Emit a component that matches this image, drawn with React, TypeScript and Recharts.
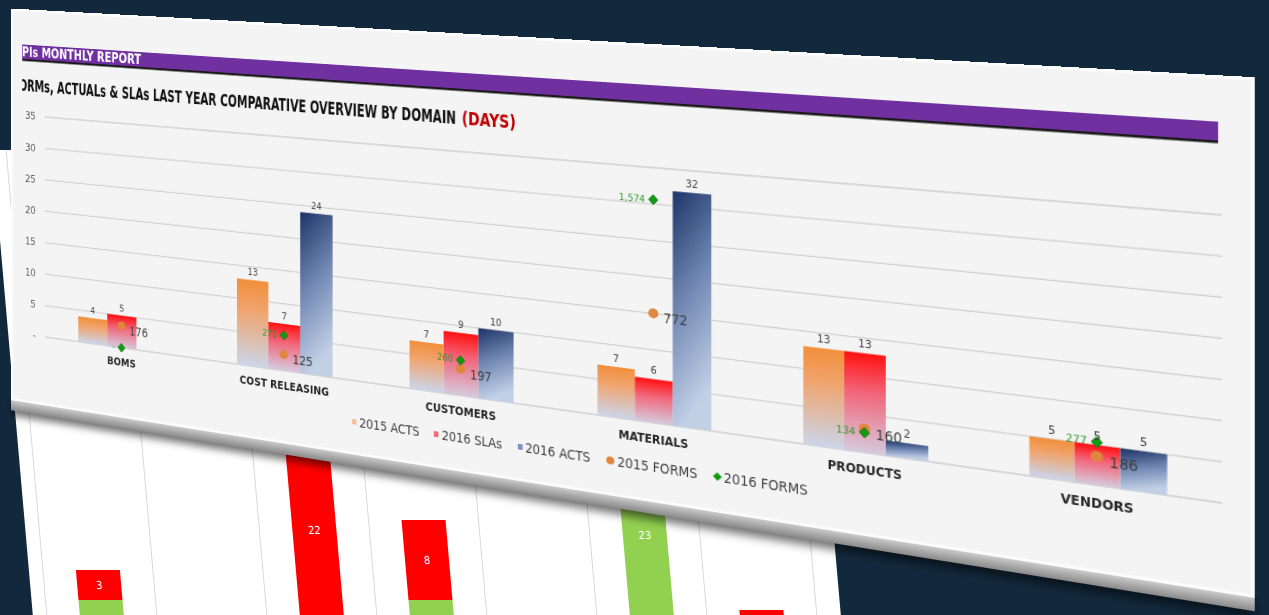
import React from 'react';
import { ComposedChart, BarChart, Bar, Line, XAxis, YAxis, CartesianGrid, LabelList } from 'recharts';

// ---------- data (main chart) ----------
const categories = ['BOMS', 'COST RELEASING', 'CUSTOMERS', 'MATERIALS', 'PRODUCTS', 'VENDORS'];
const acts2015 = [4, 13, 7, 7, 13, 5];
const slas2016 = [5, 7, 9, 6, 13, 5];
const acts2016 = [0, 24, 10, 32, 2, 5];
const forms2015 = [176, 125, 197, 772, 160, 186];
const forms2016 = [0, 271, 260, 1574, 134, 277];
const yTicks = [0, 5, 10, 15, 20, 25, 30, 35];
const seriesNames = ['2015 ACTS', '2016 SLAs', '2016 ACTS', '2015 FORMS', '2016 FORMS'];
const reportTitle = 'KPIs MONTHLY REPORT';
const chartTitle = 'FORMs, ACTUALs & SLAs LAST YEAR COMPARATIVE OVERVIEW BY DOMAIN';
const chartUnit = '(DAYS)';

// ---------- data (background chart, mostly hidden) ----------
const backCategories = ['1', '2', '3', '4', '5', '6', '7'];
const backGreen = [5, 0, 1, 5, 0, 23, 2];
const backRed = [3, 0, 22, 8, 0, 5, 2];

const FONT = '"Liberation Sans Narrow","DejaVu Sans Condensed","Roboto Condensed","Open Sans",Arial,sans-serif';

// ---------- projective transform helper ----------
type P = [number, number];
function adj(m: number[]) {
  return [
    m[4] * m[8] - m[5] * m[7], m[2] * m[7] - m[1] * m[8], m[1] * m[5] - m[2] * m[4],
    m[5] * m[6] - m[3] * m[8], m[0] * m[8] - m[2] * m[6], m[2] * m[3] - m[0] * m[5],
    m[3] * m[7] - m[4] * m[6], m[1] * m[6] - m[0] * m[7], m[0] * m[4] - m[1] * m[3],
  ];
}
function mulMM(a: number[], b: number[]) {
  const c: number[] = [];
  for (let i = 0; i < 3; i++)
    for (let j = 0; j < 3; j++) {
      let s = 0;
      for (let k = 0; k < 3; k++) s += a[3 * i + k] * b[3 * k + j];
      c[3 * i + j] = s;
    }
  return c;
}
function mulMV(m: number[], v: number[]) {
  return [
    m[0] * v[0] + m[1] * v[1] + m[2] * v[2],
    m[3] * v[0] + m[4] * v[1] + m[5] * v[2],
    m[6] * v[0] + m[7] * v[1] + m[8] * v[2],
  ];
}
function basis(p: P[]) {
  const m = [p[0][0], p[1][0], p[2][0], p[0][1], p[1][1], p[2][1], 1, 1, 1];
  const v = mulMV(adj(m), [p[3][0], p[3][1], 1]);
  return mulMM(m, [v[0], 0, 0, 0, v[1], 0, 0, 0, v[2]]);
}
function homography(src: P[], dst: P[]) {
  const t = mulMM(basis(dst), adj(basis(src)));
  const n = t.map((x) => x / t[8]);
  return `matrix3d(${n[0]},${n[3]},0,${n[6]},${n[1]},${n[4]},0,${n[7]},0,0,1,0,${n[2]},${n[5]},0,${n[8]})`;
}

// card flat geometry: plot rectangle -> where it appears in the photo
const CARD_W = 1250;
const CARD_H = 467;
const cardSrc: P[] = [[45, 126], [1225, 126], [1225, 386], [45, 386]];
const cardDst: P[] = [[45, 117], [1222, 215], [1222, 503], [45, 337]];

const vb = (p: any) => {
  const v = p.viewBox || {};
  return {
    x: p.x ?? v.x ?? 0,
    y: p.y ?? v.y ?? 0,
    width: p.width ?? v.width ?? 0,
    height: p.height ?? v.height ?? 0,
  };
};

const barLabel = (p: any) => {
  const { x, y, width } = vb(p);
  return (
    <text x={x + width / 2} y={y - 5} textAnchor="middle" fontSize={10.5} fill="#404040" fontFamily={FONT}>
      {p.value === 0 ? '-' : p.value}
    </text>
  );
};
const orangeLabel = (p: any) => {
  const { x, y } = vb(p);
  return (
    <text x={x + 10} y={y + 9} textAnchor="start" fontSize={13.5} fill="#404040" fontFamily={FONT}>
      {Number(p.value).toLocaleString('en-US')}
    </text>
  );
};
const greenLabel = (p: any) => {
  const { x, y } = vb(p);
  return (
    <text x={x - 8} y={y + 3} textAnchor="end" fontSize={10} fill="#2c9a2c" fontFamily={FONT}>
      {p.value === 0 ? '-' : Number(p.value).toLocaleString('en-US')}
    </text>
  );
};
// the background sheet is cut by the window: only segment labels inside the view are drawn
const backLabel = (p: any) => {
  const { x, y, width, height } = vb(p);
  const cy = y + height / 2;
  if (!p.value || cy > 435) return null;
  return (
    <text x={x + width / 2} y={cy + 4} textAnchor="middle" fontSize={11} fill="#ffffff" fontFamily={FONT}>
      {p.value}
    </text>
  );
};

const orangeDot = (p: any) => <circle key={`o${p.index}`} cx={p.cx} cy={p.cy} r={5} fill="#E0873D" />;
const greenDot = (p: any) => (
  <path
    key={`g${p.index}`}
    d={`M${p.cx},${p.cy - 5}L${p.cx + 4.5},${p.cy}L${p.cx},${p.cy + 5}L${p.cx - 4.5},${p.cy}Z`}
    fill="#129a12"
    stroke="#0b6e0b"
    strokeWidth={0.8}
  />
);

const legendMarkers = [
  { color: '#F3C2A2', shape: 'square' },
  { color: '#EE6B7B', shape: 'square' },
  { color: '#7F95BF', shape: 'square' },
  { color: '#E0873D', shape: 'circle' },
  { color: '#129a12', shape: 'diamond' },
];

export default function App() {
  const data = categories.map((name, i) => ({
    name,
    acts2015: acts2015[i],
    slas2016: slas2016[i],
    acts2016: acts2016[i],
    forms2015: forms2015[i],
    forms2016: forms2016[i],
  }));
  const backData = backCategories.map((name, i) => ({ name, green: backGreen[i], red: backRed[i] }));
  const cardTransform = homography(cardSrc, cardDst);

  return (
    <div
      style={{
        position: 'fixed', left: 0, top: 0, width: 1269, height: 615, overflow: 'hidden',
        background: '#12293d', fontFamily: FONT,
      }}
    >
      {/* background report sheet */}
      <div
        style={{
          position: 'absolute', left: 28, top: 150, width: 808, height: 520, background: '#ffffff',
          transform: 'skewX(5deg)', transformOrigin: '0px 410px',
        }}
      >
        <BarChart width={808} height={500} data={backData} margin={{ top: 0, right: 24, bottom: 0, left: 14 }} barCategoryGap="30%">
          <CartesianGrid
            horizontal={false}
            stroke="#d9d9d9"
            verticalCoordinatesGenerator={({ offset }: any) =>
              Array.from({ length: backCategories.length + 1 }, (_, i) => offset.left + (i * offset.width) / backCategories.length)
            }
          />
          <XAxis dataKey="name" hide />
          <YAxis hide domain={[0, 50]} />
          <Bar dataKey="green" stackId="a" fill="#92D050" isAnimationActive={false}>
            <LabelList dataKey="green" content={backLabel} />
          </Bar>
          <Bar dataKey="red" stackId="a" fill="#FF0000" isAnimationActive={false}>
            <LabelList dataKey="red" content={backLabel} />
          </Bar>
        </BarChart>
      </div>

      {/* main card, flat layout projected onto the photographed plane */}
      <div
        style={{
          position: 'absolute', left: 0, top: 0, width: CARD_W, height: CARD_H,
          transformOrigin: '0 0', transform: cardTransform,
        }}
      >
        <div
          style={{
            position: 'absolute', left: 0, top: CARD_H - 6, width: CARD_W, height: 18,
            background: 'linear-gradient(#eeeeee, #b5b5b5 55%, #8a8a8a)',
            boxShadow: '0 6px 10px rgba(0,0,0,0.55)',
          }}
        />
        <div
          style={{
            position: 'absolute', left: 0, top: 0, width: CARD_W, height: CARD_H,
            background: '#f4f4f4', boxShadow: 'inset 0 0 0 3px #fbfbfb',
          }}
        />
        <svg width={CARD_W} height={CARD_H} style={{ position: 'absolute', left: 0, top: 0 }}>
          <defs>
            <clipPath id="cardClip">
              <rect x={15} y={0} width={CARD_W - 15} height={CARD_H} />
            </clipPath>
          </defs>
          <g clipPath="url(#cardClip)">
            <rect x={15} y={42} width={1207} height={17} fill="#7030A0" />
            <rect x={15} y={59} width={1207} height={2.5} fill="#1a1a1a" />
            <text x={5} y={56} fill="#ffffff" fontSize={15} fontWeight={700} fontFamily={FONT} textLength={163} lengthAdjust="spacingAndGlyphs">
              {reportTitle}
            </text>
            <text x={2} y={97} fill="#111111" fontSize={19} fontWeight={700} fontFamily={FONT} textLength={530} lengthAdjust="spacingAndGlyphs">
              {chartTitle}
            </text>
            <text x={538} y={97} fill="#C00000" fontSize={19} fontWeight={700} fontFamily={FONT} textLength={57} lengthAdjust="spacingAndGlyphs">
              {chartUnit}
            </text>
          </g>
        </svg>
        <div style={{ position: 'absolute', left: 0, top: 0 }}>
          <ComposedChart
            width={CARD_W}
            height={CARD_H}
            data={data}
            margin={{ top: 126, right: 25, bottom: 51, left: 0 }}
            barCategoryGap="22%"
            barGap={0}
          >
            <defs>
              <linearGradient id="gOrange" x1="0" y1="0" x2="0" y2="1">
                <stop offset="0" stopColor="#F28F3B" />
                <stop offset="0.35" stopColor="#F0A46E" />
                <stop offset="1" stopColor="#CBD5EA" />
              </linearGradient>
              <linearGradient id="gRed" x1="0" y1="0" x2="0" y2="1">
                <stop offset="0" stopColor="#FF1111" />
                <stop offset="0.4" stopColor="#F2667A" />
                <stop offset="1" stopColor="#D6CADD" />
              </linearGradient>
              <linearGradient id="gBlue" x1="0" y1="0" x2="0.25" y2="1">
                <stop offset="0" stopColor="#1C3466" />
                <stop offset="0.5" stopColor="#7187B3" />
                <stop offset="1" stopColor="#C2D0E6" />
              </linearGradient>
            </defs>
            <CartesianGrid vertical={false} stroke="#cfcfcf" strokeWidth={1.3} />
            <XAxis
              dataKey="name"
              axisLine={false}
              tickLine={false}
              height={30}
              interval={0}
              tickMargin={6}
              tick={{ fontSize: 12, fontWeight: 700, fill: '#262626', fontFamily: FONT }}
            />
            <YAxis
              width={45}
              domain={[0, 35]}
              ticks={yTicks}
              axisLine={false}
              tickLine={false}
              tickMargin={6}
              tickFormatter={(v: number) => (v === 0 ? '-' : String(v))}
              tick={{ fontSize: 12.5, fill: '#595959', fontFamily: FONT }}
            />
            <YAxis yAxisId="r" orientation="right" hide domain={[0, 1800]} />
            <Bar dataKey="acts2015" name={seriesNames[0]} fill="url(#gOrange)" isAnimationActive={false}>
              <LabelList dataKey="acts2015" content={barLabel} />
            </Bar>
            <Bar dataKey="slas2016" name={seriesNames[1]} fill="url(#gRed)" isAnimationActive={false}>
              <LabelList dataKey="slas2016" content={barLabel} />
            </Bar>
            <Bar dataKey="acts2016" name={seriesNames[2]} fill="url(#gBlue)" isAnimationActive={false}>
              <LabelList dataKey="acts2016" content={barLabel} />
            </Bar>
            <Line
              yAxisId="r"
              dataKey="forms2015"
              name={seriesNames[3]}
              stroke="none"
              dot={orangeDot}
              activeDot={false}
              legendType="none"
              isAnimationActive={false}
            >
              <LabelList dataKey="forms2015" content={orangeLabel} />
            </Line>
            <Line
              yAxisId="r"
              dataKey="forms2016"
              name={seriesNames[4]}
              stroke="none"
              dot={greenDot}
              activeDot={false}
              legendType="none"
              isAnimationActive={false}
            >
              <LabelList dataKey="forms2016" content={greenLabel} />
            </Line>
          </ComposedChart>
        </div>
        {/* legend */}
        <div
          style={{
            position: 'absolute', left: 418, top: 423, display: 'flex', alignItems: 'center', gap: 16,
            fontSize: 13.5, color: '#404040', fontFamily: FONT, whiteSpace: 'nowrap',
          }}
        >
          {seriesNames.map((n, i) => {
            const m = legendMarkers[i];
            const shape: React.CSSProperties =
              m.shape === 'circle'
                ? { width: 8, height: 8, borderRadius: 4 }
                : m.shape === 'diamond'
                ? { width: 6, height: 6, transform: 'rotate(45deg)' }
                : { width: 5, height: 6 };
            return (
              <div key={n} style={{ display: 'flex', alignItems: 'center', gap: 3 }}>
                <span style={{ display: 'inline-block', background: m.color, ...shape }} />
                <span>{n}</span>
              </div>
            );
          })}
        </div>
      </div>
    </div>
  );
}
